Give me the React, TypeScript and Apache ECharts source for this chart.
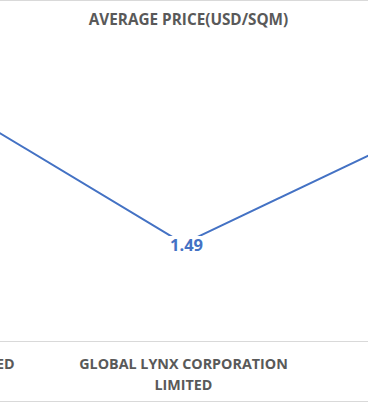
import React, { useEffect, useRef } from "react";
import * as echarts from "echarts";

const title = "AVERAGE PRICE(USD/SQM)";
const categories = ["PACIFIC GRANITE LIMITED", "GLOBAL LYNX CORPORATION\nLIMITED", "OTHERS"];
const prices = [3.88, 1.49, 3.38];

const OFFSET = 230;
const WIDTH = 830;

export default function App() {
  const ref = useRef<HTMLDivElement>(null);
  useEffect(() => {
    document.body.style.margin = "0";
    document.body.style.overflow = "hidden";
    const chart = echarts.init(ref.current!, null, { renderer: "svg" });
    const font = "'Open Sans', sans-serif";
    chart.setOption({
      animation: false,
      backgroundColor: "#ffffff",
      title: {
        text: title,
        left: OFFSET + 183.5,
        textAlign: "center",
        top: 6,
        textStyle: { fontFamily: font, fontSize: 15.3, fontWeight: "bold", color: "#595959" },
      },
      grid: { left: 23.5, right: WIDTH - 23.5 - 780, top: 46.7, bottom: 62 },
      xAxis: {
        type: "category",
        data: categories,
        boundaryGap: true,
        axisLine: { lineStyle: { color: "#d9d9d9", width: 1 } },
        axisTick: { show: false },
        axisLabel: {
          interval: 0,
          margin: 12,
          fontFamily: font,
          fontSize: 14.3,
          fontWeight: "bold",
          color: "#595959",
          lineHeight: 21,
          align: "center",
        },
      },
      yAxis: {
        type: "value",
        min: 0,
        max: 4.5,
        show: false,
        splitLine: { show: false },
      },
      graphic: [
        { type: "rect", shape: { x: 0, y: 0, width: WIDTH, height: 1 }, style: { fill: "#d9d9d9" } },
        { type: "rect", shape: { x: 0, y: 401, width: WIDTH, height: 1 }, style: { fill: "#d9d9d9" } },
      ],
      series: [
        {
          type: "line",
          data: prices,
          symbol: "circle",
          symbolSize: 0.1,
          itemStyle: { color: "#4472C4" },
          lineStyle: { color: "#4472C4", width: 2 },
          label: {
            show: true,
            position: "inside",
            offset: [3, 1],
            fontFamily: font,
            fontSize: 16.5,
            fontWeight: "bold",
            color: "#4472C4",
            backgroundColor: "#ffffff",
            padding: [0, 1],
          },
        },
      ],
    });
    return () => chart.dispose();
  }, []);
  return (
    <div
      ref={ref}
      style={{ position: "fixed", left: -OFFSET, top: 0, width: WIDTH, height: 403 }}
    />
  );
}
